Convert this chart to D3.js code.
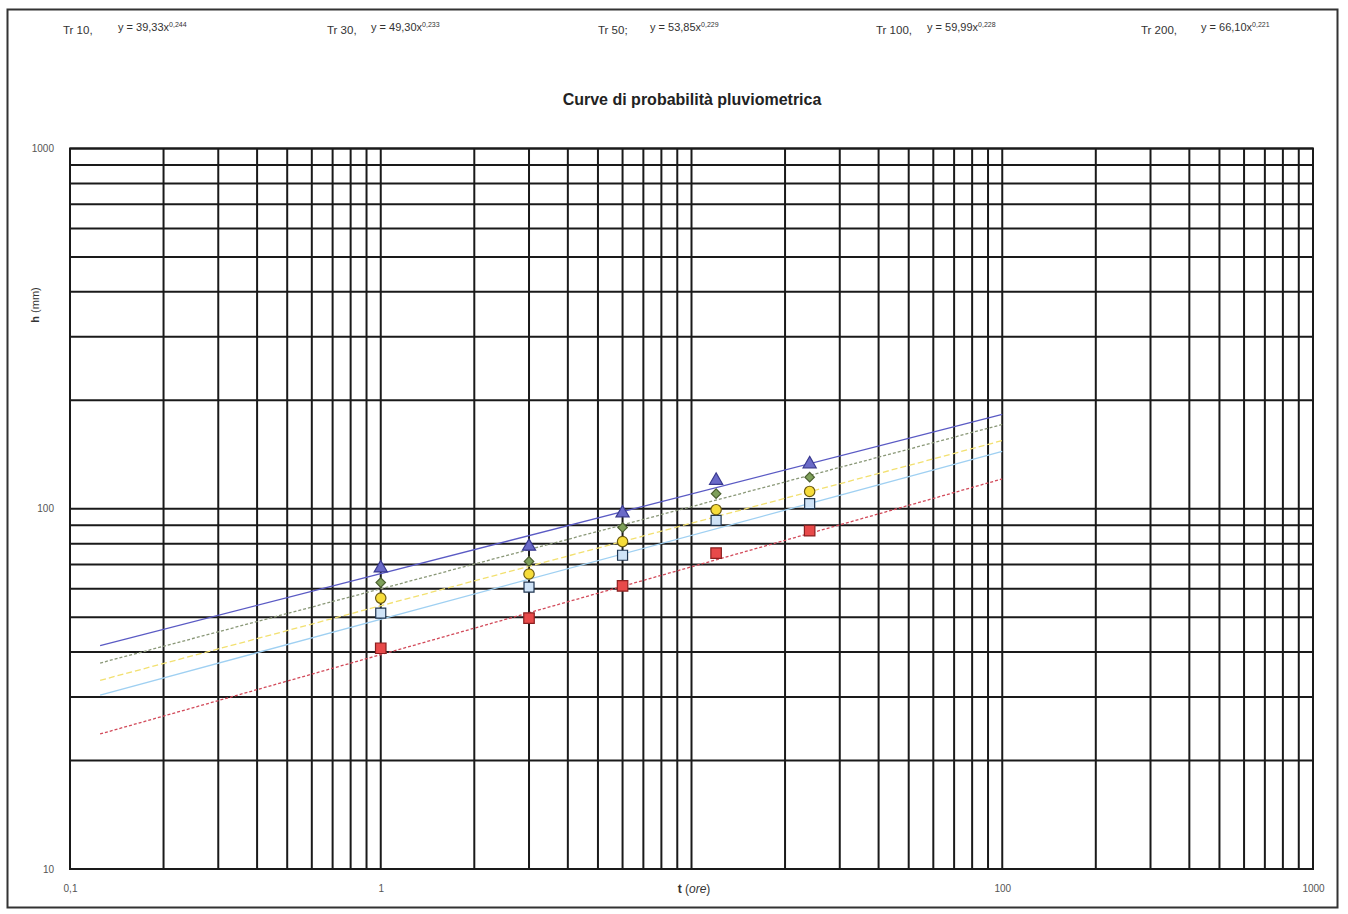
<!DOCTYPE html>
<html>
<head>
<meta charset="utf-8">
<script src="https://cdn.jsdelivr.net/npm/d3@7"></script>
<style>
    body { margin: 0; background: #fff; }
    svg { display: block; font-family: "Liberation Sans", Arial, sans-serif; }
</style>
</head>
<body>
<div id="chart"></div>
<script>
// DATA
// durations (ore) of the measured points
var durations = [1, 3, 6, 12, 24];
// rainfall depths h (mm)
var tr10 = [41.0, 49.7, 61.1, 75.3, 86.9];
var tr30 = [51.3, 60.6, 74.3, 92.8, 103.3];
var tr50 = [56.5, 65.9, 81.1, 99.4, 111.7];
var tr100 = [62.4, 71.4, 88.7, 110.1, 122.4];
var tr200 = [68.4, 78.6, 97.3, 119.8, 133.1];
// trend line ends (t from 0.125 to 100 ore)
var trendT = [0.125, 100];
var trend10 = [23.7, 121.0];
var trend30 = [30.4, 144.2];
var trend50 = [33.4, 154.6];
var trend100 = [37.3, 171.4];
var trend200 = [41.7, 182.9];
// equation labels on top
var eqNames = ["Tr 10,", "Tr 30,", "Tr 50;", "Tr 100,", "Tr 200,"];
var eqCoeffs = ["39,33", "49,30", "53,85", "59,99", "66,10"];
var eqExps = ["0,244", "0,233", "0,229", "0,228", "0,221"];
// tick labels
var xTickValues = [0.1, 1, 100, 1000];
var xTickLabels = ["0,1", "1", "100", "1000"];
var yTickValues = [10, 100, 1000];
var yTickLabels = ["10", "100", "1000"];

// SIZES
var svgWidth = 1348;
var svgHeight = 914;
var plot = { left: 70, right: 1313, top: 148.5, bottom: 869 };

var svg = d3.select("#chart").append("svg")
    .attr("width", svgWidth)
    .attr("height", svgHeight);

// outer chart border
svg.append("rect")
    .attr("x", 7.5).attr("y", 9.5)
    .attr("width", 1330).attr("height", 898)
    .attr("fill", "none")
    .attr("stroke", "#333")
    .attr("stroke-width", 2);

// scales
var x = d3.scaleLog().domain([0.1, 1000]).range([plot.left, plot.right]);
var y = d3.scaleLog().domain([10, 1000]).range([plot.bottom, plot.top]);

// gridlines
var grid = svg.append("g");
grid.selectAll(".vg").data(x.ticks())
    .enter().append("line")
    .attr("x1", d => x(d)).attr("x2", d => x(d))
    .attr("y1", plot.top).attr("y2", plot.bottom)
    .attr("stroke", "#1a1a1a").attr("stroke-width", 2);
grid.selectAll(".hg").data(y.ticks())
    .enter().append("line")
    .attr("x1", plot.left).attr("x2", plot.right)
    .attr("y1", d => y(d)).attr("y2", d => y(d))
    .attr("stroke", "#1a1a1a").attr("stroke-width", 2);
// plot border
svg.append("rect")
    .attr("x", plot.left).attr("y", plot.top)
    .attr("width", plot.right - plot.left).attr("height", plot.bottom - plot.top)
    .attr("fill", "none").attr("stroke", "#1a1a1a").attr("stroke-width", 2);

// series styles (rotate 45 turns the square into the Excel diamond)
var series = [
    { values: tr10, trend: trend10, line: "#d24a5a", dash: "3,2", fill: "#e84a4a", stroke: "#8a2020", shape: d3.symbolSquare, size: 110, rot: 0 },
    { values: tr30, trend: trend30, line: "#9fd0f2", dash: null, fill: "#cfe3f7", stroke: "#1f3550", shape: d3.symbolSquare, size: 100, rot: 0 },
    { values: tr50, trend: trend50, line: "#f2e070", dash: "6,3", fill: "#f6dc3a", stroke: "#6b5a10", shape: d3.symbolCircle, size: 85, rot: 0 },
    { values: tr100, trend: trend100, line: "#8a9878", dash: "3,2", fill: "#7ea05a", stroke: "#4c6030", shape: d3.symbolSquare, size: 45, rot: 45 },
    { values: tr200, trend: trend200, line: "#5a5ac4", dash: null, fill: "#6a6ac8", stroke: "#3a3a90", shape: d3.symbolTriangle, size: 75, rot: 0 }
];

// trend lines
var lineGen = d3.line().x(d => x(d[0])).y(d => y(d[1]));
series.forEach(function (s) {
    svg.append("path")
        .datum(trendT.map((t, i) => [t, s.trend[i]]))
        .attr("d", lineGen)
        .attr("fill", "none")
        .attr("stroke", s.line)
        .attr("stroke-width", 1.3)
        .attr("stroke-dasharray", s.dash);
});

// markers
series.forEach(function (s) {
    svg.append("g").selectAll("path")
        .data(durations.map((t, i) => [t, s.values[i]]))
        .enter().append("path")
        .attr("transform", d => `translate(${x(d[0])}, ${y(d[1])}) rotate(${s.rot})`)
        .attr("d", d3.symbol().type(s.shape).size(s.size))
        .attr("fill", s.fill)
        .attr("stroke", s.stroke)
        .attr("stroke-width", 1.2);
});

// axis labels
var yAxis = d3.axisLeft(y).tickValues(yTickValues)
    .tickFormat((d, i) => yTickLabels[i]).tickSize(0).tickPadding(16);
svg.append("g")
    .attr("transform", `translate(${plot.left}, 0)`)
    .call(yAxis)
    .call(g => g.select(".domain").remove())
    .selectAll("text")
    .attr("font-size", 10).attr("fill", "#555")
    .attr("font-family", "Liberation Sans, Arial, sans-serif");

var xAxis = d3.axisBottom(x).tickValues(xTickValues)
    .tickFormat((d, i) => xTickLabels[i]).tickSize(0).tickPadding(16);
svg.append("g")
    .attr("transform", `translate(0, ${plot.bottom})`)
    .call(xAxis)
    .call(g => g.select(".domain").remove())
    .selectAll("text")
    .attr("font-size", 10).attr("fill", "#555")
    .attr("font-family", "Liberation Sans, Arial, sans-serif");

// axis titles
var xt = svg.append("text")
    .attr("x", 694).attr("y", 893)
    .attr("text-anchor", "middle")
    .attr("font-size", 12).attr("fill", "#333");
xt.append("tspan").attr("font-weight", "bold").text("t");
xt.append("tspan").text(" (");
xt.append("tspan").attr("font-style", "italic").text("ore");
xt.append("tspan").text(")");

var yt = svg.append("text")
    .attr("transform", "translate(39, 305) rotate(-90)")
    .attr("text-anchor", "middle")
    .attr("font-size", 11).attr("fill", "#333");
yt.append("tspan").attr("font-weight", "bold").text("h");
yt.append("tspan").text(" (mm)");

// title
svg.append("text")
    .attr("x", 692).attr("y", 105)
    .attr("text-anchor", "middle")
    .attr("font-size", 16).attr("font-weight", "bold").attr("fill", "#222")
    .text("Curve di probabilità pluviometrica");

// equations
var eqNameX = [63, 327, 598, 876, 1141];
var eqX = [118, 371, 650, 927, 1201];
eqNames.forEach(function (name, i) {
    svg.append("text")
        .attr("x", eqNameX[i]).attr("y", 34)
        .attr("font-size", 11.5).attr("fill", "#333")
        .text(name);
    var eq = svg.append("text")
        .attr("x", eqX[i]).attr("y", 31)
        .attr("font-size", 11).attr("fill", "#333");
    eq.append("tspan").text("y = " + eqCoeffs[i] + "x");
    eq.append("tspan").attr("dy", -4).attr("font-size", 7).text(eqExps[i]);
});
</script>
</body>
</html>
